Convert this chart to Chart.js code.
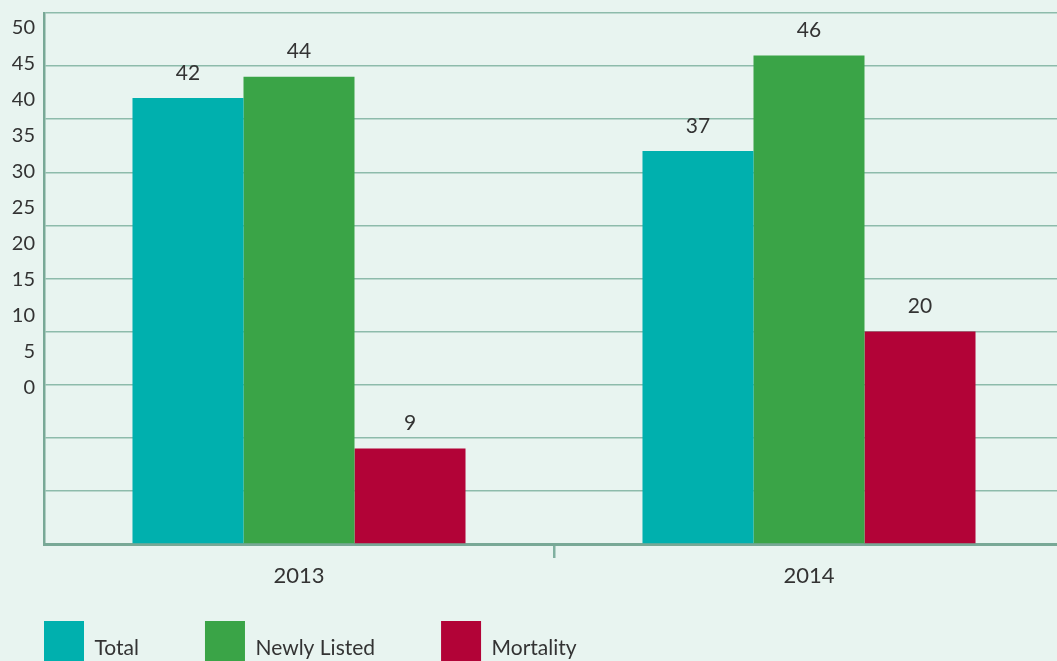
<!DOCTYPE html>
<html>
<head>
<meta charset="utf-8">
<script src="https://cdn.jsdelivr.net/npm/chart.js@4/dist/chart.umd.min.js"></script>
<style>
  html, body { margin: 0; padding: 0; background: #e8f4f0; overflow: hidden; }
  #wrap { position: absolute; left: 0; top: 0; width: 1057px; height: 661px; overflow: hidden; background: #e8f4f0; }
  #c { position: absolute; left: -22px; top: 0; }
</style>
</head>
<body>
<div id="wrap"><canvas id="c" width="1086" height="724"></canvas></div>
<script>
const categories = ['2013', '2014'];
const totalValues = [42, 37];
const newlyListedValues = [44, 46];
const mortalityValues = [9, 20];
const yTickLabels = [0, 5, 10, 15, 20, 25, 30, 35, 40, 45, 50];
const seriesNames = ['Total', 'Newly Listed', 'Mortality'];
const seriesColors = ['#00b0ae', '#3aa447', '#b20337'];

const FONT = 'Lato, "Open Sans", sans-serif';
const TEXT = '#333333';
const LINE = '#80b0a0';
const LEGEND_TOP = 555;

const valueLabels = {
  id: 'valueLabels',
  afterDatasetsDraw(chart) {
    const ctx = chart.ctx;
    ctx.save();
    ctx.font = '21px ' + FONT;
    ctx.fillStyle = TEXT;
    ctx.textAlign = 'center';
    ctx.textBaseline = 'middle';
    chart.data.datasets.forEach((ds, di) => {
      const meta = chart.getDatasetMeta(di);
      meta.data.forEach((el, i) => {
        ctx.fillText(String(ds.data[i]), el.x, el.y - 25);
      });
    });
    ctx.restore();
  }
};

const legendShift = {
  id: 'legendShift',
  afterLayout(chart) {
    const lg = chart.legend;
    if (!lg) return;
    const h = lg.height;
    lg.top = LEGEND_TOP;
    lg.bottom = LEGEND_TOP + h;
  }
};

new Chart(document.getElementById('c'), {
  type: 'bar',
  data: {
    labels: categories,
    datasets: [
      { label: seriesNames[0], data: totalValues, backgroundColor: seriesColors[0], borderWidth: 0, yAxisID: 'y' },
      { label: seriesNames[1], data: newlyListedValues, backgroundColor: seriesColors[1], borderWidth: 0, yAxisID: 'y' },
      { label: seriesNames[2], data: mortalityValues, backgroundColor: seriesColors[2], borderWidth: 0, yAxisID: 'y' }
    ]
  },
  options: {
    responsive: false,
    animation: false,
    devicePixelRatio: 1,
    layout: { padding: { top: 13, right: 0, bottom: 0, left: 0 } },
    datasets: { bar: { categoryPercentage: 0.653, barPercentage: 1.0 } },
    plugins: {
      tooltip: { enabled: false },
      legend: {
        position: 'bottom',
        align: 'start',
        labels: {
          boxWidth: 40,
          boxHeight: 54,
          padding: 66,
          color: TEXT,
          font: { family: FONT, size: 21 }
        }
      }
    },
    scales: {
      x: {
        type: 'category',
        offset: true,
        grid: {
          display: true, drawOnChartArea: false, drawTicks: true, tickLength: 14,
          color: (c) => (c.index === 0 ? 'rgba(0,0,0,0)' : LINE),
          lineWidth: 2.5, offset: true
        },
        border: { display: true, color: '#78a896', width: 3 },
        ticks: { color: TEXT, font: { family: FONT, size: 22 }, padding: 5, maxRotation: 0 },
        afterFit(scale) { scale.height = 50; scale.paddingLeft = 0; scale.paddingRight = 0; }
      },
      y2: {
        position: 'left',
        weight: 1,
        min: -21.77,
        max: 52.09,
        grid: { display: false, drawTicks: false },
        border: { display: false },
        ticks: { color: TEXT, font: { family: FONT, size: 20 }, padding: 9 },
        afterBuildTicks(scale) { scale.ticks = yTickLabels.map(v => ({ value: v })); },
        afterFit(scale) { scale.width = 66; scale.paddingTop = 0; scale.paddingBottom = 0; }
      },
      y: {
        position: 'left',
        weight: 0,
        min: 0,
        max: 50,
        ticks: { display: false, stepSize: 5 },
        grid: { color: '#8dbbab', lineWidth: 1.5, drawTicks: false },
        border: { display: true, color: '#78a896', width: 2.5 },
        afterFit(scale) { scale.width = 0; scale.paddingTop = 0; scale.paddingBottom = 0; }
      }
    }
  },
  plugins: [valueLabels, legendShift]
});
</script>
</body>
</html>
